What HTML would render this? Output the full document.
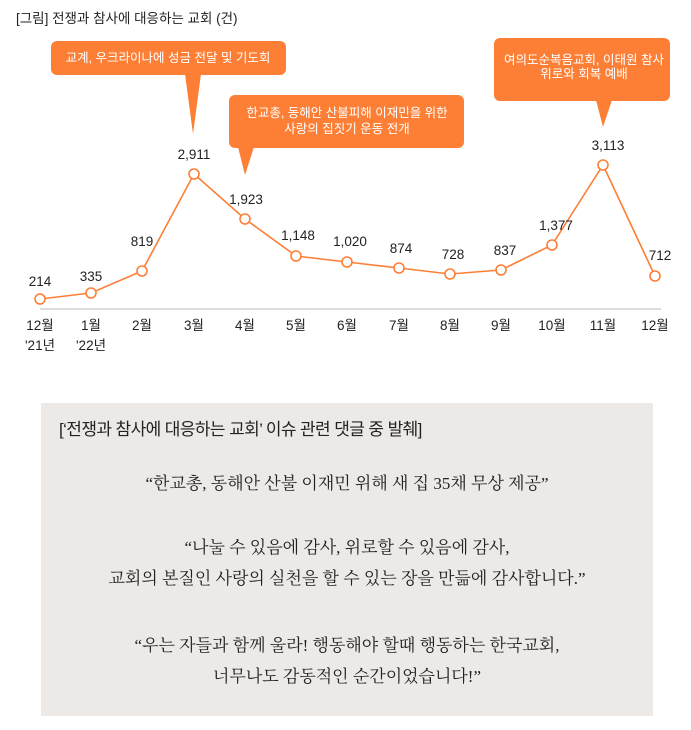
<!DOCTYPE html>
<html><head><meta charset="utf-8"><style>
body{margin:0;width:691px;height:730px;background:#fff;position:relative;overflow:hidden;font-family:"Liberation Sans","Noto Sans CJK KR",sans-serif;}
svg{position:absolute;left:0;top:0}
.box{position:absolute;left:41px;top:403px;width:612px;height:313px;background:#ede9e6;}
.hd{position:absolute;left:18px;top:12px;font-size:17px;color:#222;font-family:"Liberation Sans","Noto Sans CJK KR",sans-serif;letter-spacing:-0.6px}
.q{position:absolute;left:0;width:612px;text-align:center;font-family:"Liberation Serif","Noto Serif CJK SC",serif;font-size:17px;color:#222;line-height:31px}
</style></head><body>
<svg width="691" height="400" font-family="Liberation Sans, Noto Sans CJK KR, sans-serif">
<text x="16" y="23" font-size="13.5" fill="#222">[그림] 전쟁과 참사에 대응하는 교회 (건)</text>
<g fill="#fd7f36">
<rect x="51" y="41" width="235" height="34" rx="6"/>
<polygon points="185,74 201,74 193,134"/>
<rect x="229" y="95" width="235" height="53" rx="6"/>
<polygon points="238,147 254,147 245,175"/>
<rect x="494" y="38" width="176" height="63" rx="6"/>
<polygon points="596,100 612,100 603,127"/>
</g>
<g fill="#fff" font-size="12.5" text-anchor="middle">
<text x="168" y="62">교계, 우크라이나에 성금 전달 및 기도회</text>
<text x="347" y="117">한교총, 동해안 산불피해 이재민을 위한</text>
<text x="347" y="133">사랑의 집짓기 운동 전개</text>
<text x="584" y="64">여의도순복음교회, 이태원 참사</text>
<text x="584" y="78">위로와 회복 예배</text>
</g>
<line x1="40" y1="309" x2="661" y2="309" stroke="#bbb" stroke-width="1"/>
<polyline fill="none" stroke="#fd7f36" stroke-width="1.6" points="40,299 91,293 142,271 194,174 245,219 296,256 347,262 399,268 450,274 501,270 552,245 603,165 655,276"/>
<g fill="#fff" stroke="#fd7f36" stroke-width="1.6">
<circle cx="40" cy="299" r="5"/><circle cx="91" cy="293" r="5"/><circle cx="142" cy="271" r="5"/><circle cx="194" cy="174" r="5"/><circle cx="245" cy="219" r="5"/><circle cx="296" cy="256" r="5"/><circle cx="347" cy="262" r="5"/><circle cx="399" cy="268" r="5"/><circle cx="450" cy="274" r="5"/><circle cx="501" cy="270" r="5"/><circle cx="552" cy="245" r="5"/><circle cx="603" cy="165" r="5"/><circle cx="655" cy="276" r="5"/>
</g>
<g font-size="13.5" fill="#222" text-anchor="middle">
<text x="40" y="286">214</text><text x="91" y="281">335</text><text x="142" y="246">819</text><text x="194" y="159">2,911</text><text x="246" y="204">1,923</text><text x="298" y="240">1,148</text><text x="350" y="246">1,020</text><text x="401" y="253">874</text><text x="453" y="259">728</text><text x="505" y="255">837</text><text x="556" y="230">1,377</text><text x="608" y="150">3,113</text><text x="660" y="260">712</text>
</g>
<g font-size="13.5" fill="#222" text-anchor="middle">
<text x="40" y="330">12월</text><text x="91" y="330">1월</text><text x="142" y="330">2월</text><text x="194" y="330">3월</text><text x="245" y="330">4월</text><text x="296" y="330">5월</text><text x="347" y="330">6월</text><text x="399" y="330">7월</text><text x="450" y="330">8월</text><text x="501" y="330">9월</text><text x="552" y="330">10월</text><text x="603" y="330">11월</text><text x="655" y="330">12월</text>
<text x="40" y="350">'21년</text><text x="91" y="350">'22년</text>
</g>
</svg>
<div class="box">
<div class="hd">[‘전쟁과 참사에 대응하는 교회’ 이슈 관련 댓글 중 발췌]</div>
<div class="q" style="top:65px">“한교총, 동해안 산불 이재민 위해 새 집 35채 무상 제공”</div>
<div class="q" style="top:129px">“나눌 수 있음에 감사, 위로할 수 있음에 감사,<br>교회의 본질인 사랑의 실천을 할 수 있는 장을 만듦에 감사합니다.”</div>
<div class="q" style="top:227px">“우는 자들과 함께 울라! 행동해야 할때 행동하는 한국교회,<br>너무나도 감동적인 순간이었습니다!”</div>
</div>
</body></html>
